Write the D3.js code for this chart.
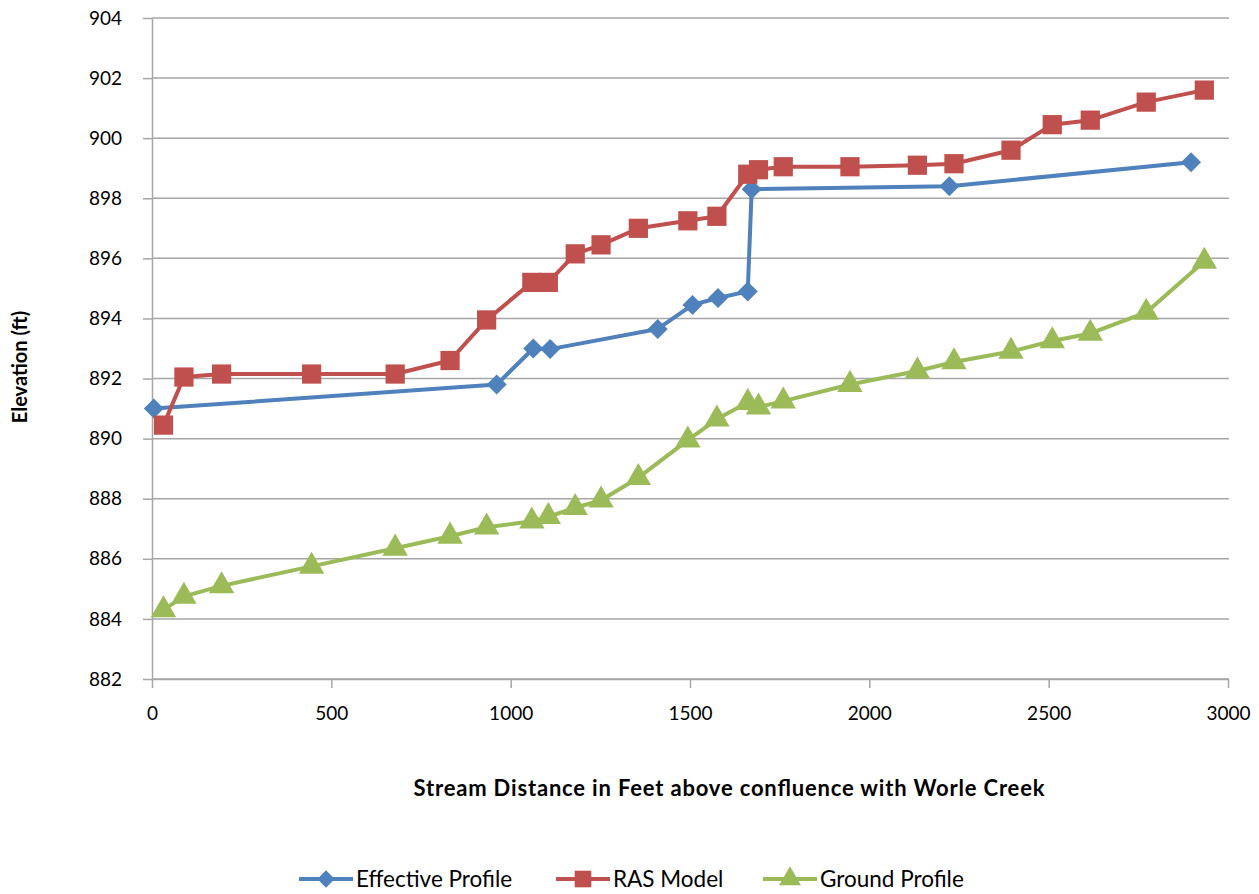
<!DOCTYPE html>
<html>
<head>
<meta charset="utf-8">
<script src="https://cdn.jsdelivr.net/npm/d3@7"></script>
<style>
  body { margin: 0; background: #fff; }
  svg text { font-family: Lato, "Open Sans", sans-serif; fill: #000; }
</style>
</head>
<body>
<div id="chart"></div>
<script>
// stream stations (ft) for the effective profile
var effStations = [5, 961, 1063, 1110, 1410, 1507, 1578, 1661, 1672, 2223, 2897];
var effElev     = [891.0, 891.8, 893.0, 892.98, 893.65, 894.45, 894.68, 894.9, 898.3, 898.4, 899.2];

// RAS cross sections, shared by model and ground
var rasStations = [32, 89, 194, 445, 678, 831, 933, 1059, 1105, 1180, 1252, 1356, 1494, 1575,
                   1661, 1691, 1760, 1946, 2134, 2236, 2395, 2510, 2616, 2772, 2934];
var rasElev     = [890.45, 892.05, 892.15, 892.15, 892.15, 892.6, 893.95, 895.2, 895.2, 896.15,
                   896.45, 897.0, 897.25, 897.4, 898.8, 898.95, 899.05, 899.05, 899.1, 899.15,
                   899.6, 900.45, 900.6, 901.2, 901.6];
var groundElev  = [884.3, 884.75, 885.1, 885.75, 886.35, 886.75, 887.05, 887.25, 887.4, 887.7,
                   887.95, 888.7, 889.95, 890.65, 891.2, 891.05, 891.25, 891.8, 892.25, 892.55,
                   892.9, 893.25, 893.5, 894.2, 895.9];

var xTicks = [0, 500, 1000, 1500, 2000, 2500, 3000];
var yTicks = [882, 884, 886, 888, 890, 892, 894, 896, 898, 900, 902, 904];

var seriesNames  = ["Effective Profile", "RAS Model", "Ground Profile"];
var seriesColors = ["#4f81bd", "#c0504d", "#9bbb59"];
// the diamond is a square turned 45 degrees, like Excel's
var seriesShapes = [d3.symbolSquare, d3.symbolSquare, d3.symbolTriangle];
var seriesTurn   = [45, 0, 0];
var seriesSizes  = [200, 370, 280];

var W = 1259, H = 894;
var margin = {top: 18, right: 31, bottom: 215, left: 152};
var w = W - margin.left - margin.right,
    h = H - margin.top - margin.bottom;

var svg = d3.select("#chart").append("svg")
    .attr("width", W)
    .attr("height", H);

var g = svg.append("g")
    .attr("transform", "translate(" + margin.left + "," + margin.top + ")");

var x = d3.scaleLinear().domain([0, 3000]).range([0, w]);
var y = d3.scaleLinear().domain([882, 904]).range([h, 0]);

// gridlines
g.selectAll(".grid")
    .data(yTicks)
    .enter().append("line")
    .attr("x1", 0)
    .attr("x2", w + 1)
    .attr("y1", function(d) { return y(d); })
    .attr("y2", function(d) { return y(d); })
    .attr("stroke", "#a6a6a6")
    .attr("stroke-width", 1.5);

var xAxis = g.append("g")
    .attr("transform", "translate(0," + h + ")")
    .call(d3.axisBottom(x).tickValues(xTicks).tickFormat(d3.format("d"))
	  .tickSize(9).tickPadding(19).tickSizeOuter(0));

var yAxis = g.append("g")
    .call(d3.axisLeft(y).tickValues(yTicks).tickFormat(d3.format("d"))
	  .tickSize(9).tickPadding(21).tickSizeOuter(0));

[xAxis, yAxis].forEach(function(ax) {
    ax.select(".domain").attr("stroke", "#a6a6a6").attr("stroke-width", 1.5);
    ax.selectAll(".tick line").attr("stroke", "#a6a6a6").attr("stroke-width", 1.5);
    ax.selectAll("text").style("font-size", "19px").style("font-family", "Lato, sans-serif").attr("fill", "#000");
});

// series
var series = [
    {xs: effStations, ys: effElev},
    {xs: rasStations, ys: rasElev},
    {xs: rasStations, ys: groundElev}
].map(function(s, i) {
    return {
	name: seriesNames[i],
	color: seriesColors[i],
	shape: seriesShapes[i],
	turn: seriesTurn[i],
	size: seriesSizes[i],
	pts: s.xs.map(function(v, j) { return [v, s.ys[j]]; })
    };
});

var line = d3.line()
    .x(function(d) { return x(d[0]); })
    .y(function(d) { return y(d[1]); });

series.forEach(function(s) {
    g.append("path")
	.datum(s.pts)
	.attr("fill", "none")
	.attr("stroke", s.color)
	.attr("stroke-width", 4)
	.attr("stroke-linejoin", "round")
	.attr("d", line);
    g.selectAll(null)
	.data(s.pts)
	.enter().append("path")
	.attr("transform", function(d) {
	    return "translate(" + x(d[0]) + "," + y(d[1]) + ") rotate(" + s.turn + ")";
	})
	.attr("d", d3.symbol().type(s.shape).size(s.size))
	.attr("fill", s.color);
});

// axis titles
svg.append("text")
    .attr("x", 729)
    .attr("y", 796)
    .attr("text-anchor", "middle")
    .style("font-size", "22px")
    .style("font-weight", "bold")
    .attr("textLength", 631)
    .attr("lengthAdjust", "spacing")
    .text("Stream Distance  in Feet above confluence with Worle Creek");

svg.append("text")
    .attr("transform", "translate(27,367) rotate(-90)")
    .attr("text-anchor", "middle")
    .style("font-size", "20px")
    .style("font-weight", "bold")
    .text("Elevation (ft)");

// legend
var legX = [299, 556, 763];
var legend = svg.selectAll(".leg")
    .data(series)
    .enter().append("g")
    .attr("transform", function(d, i) { return "translate(" + legX[i] + ",879)"; });

legend.append("line")
    .attr("x1", 0).attr("x2", 54)
    .attr("stroke", function(d) { return d.color; })
    .attr("stroke-width", 4);
legend.append("path")
    .attr("transform", function(d) { return "translate(27,0) rotate(" + d.turn + ")"; })
    .attr("d", function(d) { return d3.symbol().type(d.shape).size(d.size * 0.75)(); })
    .attr("fill", function(d) { return d.color; });
legend.append("text")
    .attr("x", 57)
    .attr("dy", "0.35em")
    .style("font-size", "22.5px")
    .text(function(d) { return d.name; });
</script>
</body>
</html>
